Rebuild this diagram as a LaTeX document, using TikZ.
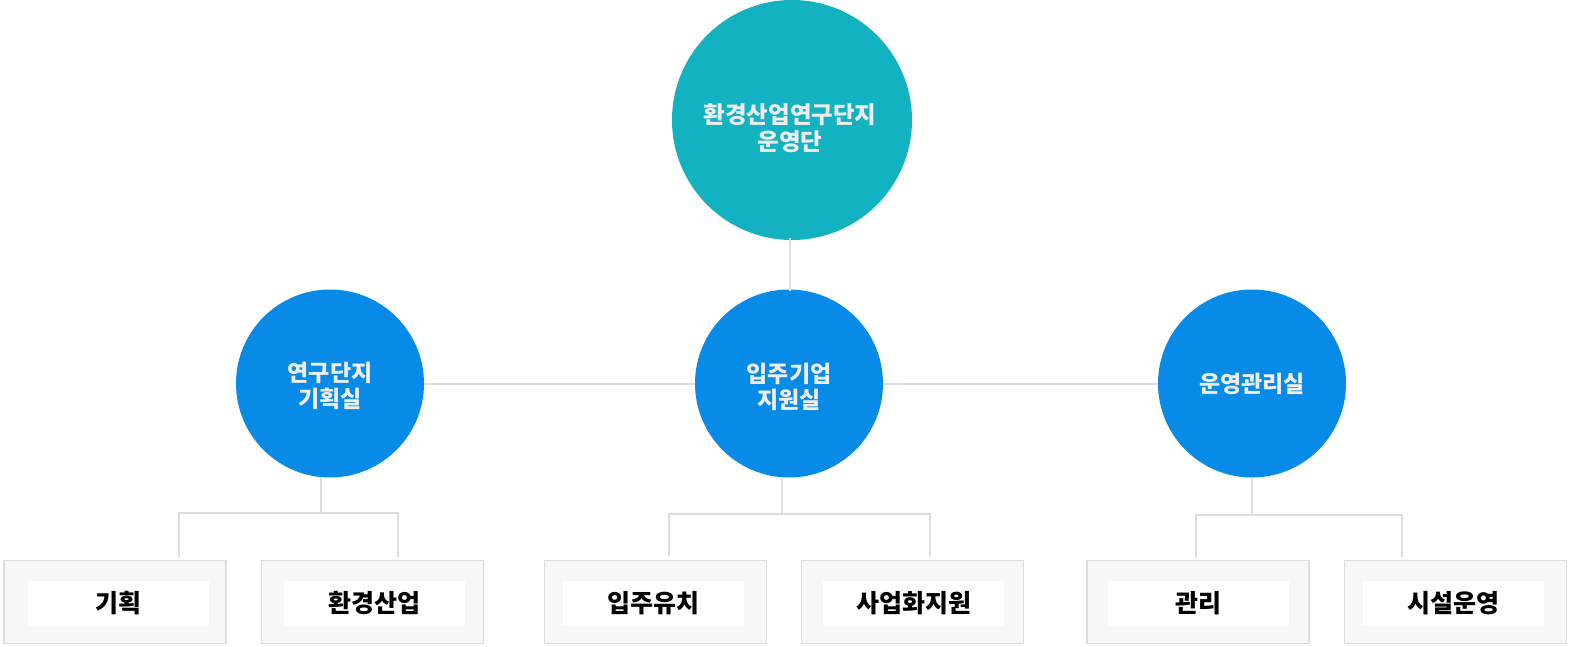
\documentclass[tikz,border=0pt]{standalone}
\usepackage{fontspec}
\newfontfamily\kr{Noto Sans CJK KR}
\definecolor{teal1}{HTML}{12B2C1}
\definecolor{blue1}{HTML}{088BE6}
\definecolor{lineg}{HTML}{DDDDDD}
\definecolor{boxfill}{HTML}{F7F7F7}
\definecolor{ctext}{HTML}{EEEEEE}
\tikzset{
  conn/.style={draw=lineg, line width=2pt},
  topcirc/.style={circle, fill=teal1, minimum size=240pt, inner sep=0pt},
  deptcirc/.style={circle, fill=blue1, minimum size=188pt, inner sep=0pt},
  toplabel/.style={text=ctext, font=\kr\bfseries\fontsize{23.5}{27}\selectfont, align=center, inner sep=0pt},
  deptlabel/.style={text=ctext, font=\kr\bfseries\fontsize{23}{26.5}\selectfont, align=center, inner sep=0pt},
  outerbox/.style={draw=lineg, line width=1.5pt, fill=boxfill, minimum width=222pt, minimum height=83pt, inner sep=0pt},
  innerbox/.style={fill=white, minimum width=181pt, minimum height=45pt, inner sep=0pt, font=\kr\bfseries\fontsize{25}{27}\selectfont, text=black}
}
\begin{document}
\begin{tikzpicture}[x=1pt,y=-1pt]
\useasboundingbox (0,0) rectangle (1572,647);
% circles
\node[topcirc] (top) at (792,120) {};
\node[deptcirc] (d1) at (330,383.5) {};
\node[deptcirc] (d2) at (789,383.5) {};
\node[deptcirc] (d3) at (1252,383.5) {};
% connectors
\coordinate (vt) at (790,238);
\coordinate (vb) at (790,291);
\draw[conn] (d1.east) -- (d2.west);
\draw[conn] (d2.east) -- (d3.west);
\draw[conn] (vt) -- (vb);
% sub connectors
\coordinate (la) at (321,477);
\coordinate (lb) at (321,513);
\coordinate (l1) at (179,557);
\coordinate (l2) at (398,557);
\draw[conn] (la) -- (lb);
\draw[conn] (l1) |- (lb) -| (l2);
\coordinate (ma) at (782,478);
\coordinate (mb) at (782,514);
\coordinate (m1) at (669,556);
\coordinate (m2) at (930,556);
\draw[conn] (ma) -- (mb);
\draw[conn] (m1) |- (mb) -| (m2);
\coordinate (ra) at (1252,478);
\coordinate (rb) at (1252,515);
\coordinate (r1) at (1196,557);
\coordinate (r2) at (1402,557);
\draw[conn] (ra) -- (rb);
\draw[conn] (r1) |- (rb) -| (r2);
% circle labels
\node[toplabel] (topl) at (790,128) {환경산업연구단지\\운영단};
\node[deptlabel] (d1l) at (330,386) {연구단지\\기획실};
\node[deptlabel] (d2l) at (789,387) {입주기업\\지원실};
\node[deptlabel] (d3l) at (1252,384) {운영관리실};
% boxes
\node[outerbox] (b1) at (115,602) {};
\node[innerbox] (t1) at (118.5,603.5) {기획};
\node[outerbox] (b2) at (372.5,602) {};
\node[innerbox] (t2) at (374,603.5) {환경산업};
\node[outerbox] (b3) at (655.5,602) {};
\node[innerbox] (t3) at (653.5,603.5) {입주유치};
\node[outerbox] (b4) at (912.5,602) {};
\node[innerbox] (t4) at (913.5,603.5) {사업화지원};
\node[outerbox] (b5) at (1198,602) {};
\node[innerbox] (t5) at (1198,603.5) {관리};
\node[outerbox] (b6) at (1455.5,602) {};
\node[innerbox] (t6) at (1453.5,603.5) {시설운영};
\end{tikzpicture}
\end{document}
